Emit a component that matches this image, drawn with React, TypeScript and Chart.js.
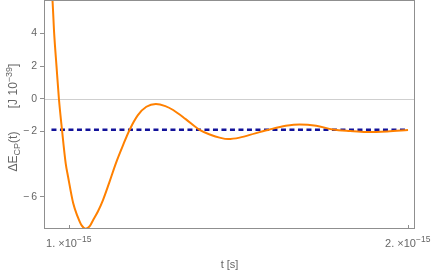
import React, { useEffect, useRef } from 'react';
import { Chart, registerables } from 'chart.js';

Chart.register(...registerables);

// time in units of 1e-15 s
const tValues = [0.948, 0.952, 0.957, 0.964, 0.971, 0.980, 0.991, 0.998, 1.013, 1.026, 1.038, 1.050, 1.062, 1.072, 1.086, 1.101, 1.120, 1.139, 1.160, 1.180, 1.204, 1.229, 1.257, 1.285, 1.308, 1.345, 1.386, 1.420, 1.445, 1.470, 1.504, 1.550, 1.593, 1.640, 1.681, 1.730, 1.779, 1.830, 1.878, 1.940, 2.001];
// ΔE_CP(t) in units of 1e-39 J
const deltaE = [6.9, 6.04, 4.0, 1.96, 0.0, -1.88, -3.95, -4.77, -6.38, -7.2, -7.75, -7.95, -7.8, -7.42, -6.9, -6.2, -5.1, -3.95, -2.85, -1.88, -1.0, -0.49, -0.32, -0.45, -0.69, -1.25, -1.91, -2.22, -2.38, -2.47, -2.38, -2.12, -1.88, -1.66, -1.57, -1.65, -1.88, -1.98, -2.04, -2.0, -1.91];
const meanDeltaE = -1.9;
const meanSpan = [0.949, 2.0];

const yTickValues = [4, 2, 0, -2, -6];
const xTickValues = [1, 2];
const xTickMantissas = ['1.', '2.'];
const xTickExponent = '\u221215';
const yRange = [-7.97, 6.04];
const xRange = [0.927, 2.0215];

const TEXT = '#666666';
const FRAME = '#8f8f8f';
const FONT = '"Liberation Sans", Arial, sans-serif';

function drawRuns(ctx: CanvasRenderingContext2D, runs: { t: string; size: number; dy: number }[], x: number, y: number, align: 'center' | 'left') {
  let total = 0;
  const widths = runs.map((r) => {
    ctx.font = `${r.size}px ${FONT}`;
    const w = ctx.measureText(r.t).width;
    total += w;
    return w;
  });
  let cx = align === 'center' ? x - total / 2 : x;
  runs.forEach((r, i) => {
    ctx.font = `${r.size}px ${FONT}`;
    ctx.fillText(r.t, cx, y + r.dy);
    cx += widths[i];
  });
}

const framePlugin = {
  id: 'framePlugin',
  beforeDatasetsDraw(chart: any) {
    const { ctx, chartArea: a, scales } = chart;
    const y0 = Math.round(scales.y.getPixelForValue(0)) + 0.5;
    ctx.save();
    ctx.strokeStyle = '#cfcfcf';
    ctx.lineWidth = 1;
    ctx.beginPath();
    ctx.moveTo(a.left, y0);
    ctx.lineTo(a.right, y0);
    ctx.stroke();
    ctx.restore();
  },
  afterDraw(chart: any) {
    const { ctx, chartArea: a, scales } = chart;
    ctx.save();
    ctx.strokeStyle = FRAME;
    ctx.lineWidth = 1;
    ctx.strokeRect(a.left + 0.5, a.top + 0.5, a.right - a.left - 1, a.bottom - a.top - 1);
    // x ticks (inward)
    ctx.beginPath();
    xTickValues.forEach((v) => {
      const px = Math.round(scales.x.getPixelForValue(v)) + 0.5;
      ctx.moveTo(px, a.bottom);
      ctx.lineTo(px, a.bottom - 4);
    });
    ctx.stroke();
    // x tick labels
    ctx.fillStyle = TEXT;
    ctx.textBaseline = 'alphabetic';
    ctx.textAlign = 'left';
    xTickValues.forEach((v, i) => {
      const px = scales.x.getPixelForValue(v);
      drawRuns(ctx, [
        { t: xTickMantissas[i] + ' \u00d710', size: 11, dy: 0 },
        { t: xTickExponent, size: 8.5, dy: -5 },
      ], px, 247, 'center');
    });
    // x title
    drawRuns(ctx, [{ t: 't [s]', size: 11, dy: 0 }], (a.left + a.right) / 2, 268, 'center');
    // y title (rotated)
    ctx.translate(17, 117.5);
    ctx.rotate(-Math.PI / 2);
    drawRuns(ctx, [
      { t: '\u0394E', size: 12, dy: 0 },
      { t: 'CP', size: 9, dy: 2.5 },
      { t: '(t)       [J 10', size: 12, dy: 0 },
      { t: '\u221239', size: 9, dy: -5 },
      { t: ']', size: 12, dy: 0 },
    ], 0, 0, 'center');
    ctx.restore();
  },
};

export default function App() {
  const ref = useRef<HTMLCanvasElement | null>(null);
  useEffect(() => {
    if (!ref.current) return;
    const chart = new Chart(ref.current, {
      type: 'line',
      data: {
        datasets: [
          {
            data: tValues.map((t, i) => ({ x: t, y: deltaE[i] })),
            borderColor: '#ff8000',
            borderWidth: 2,
            pointRadius: 0,
            cubicInterpolationMode: 'monotone',
            clip: 0,
          } as any,
          {
            data: meanSpan.map((t) => ({ x: t, y: meanDeltaE })),
            borderColor: '#12129a',
            borderWidth: 2.5,
            borderDash: [5, 3.5],
            pointRadius: 0,
            clip: 0,
          } as any,
        ],
      },
      options: {
        responsive: false,
        animation: false,
        layout: { padding: { left: 0, right: 21, top: 0, bottom: 0 } },
        plugins: { legend: { display: false }, tooltip: { enabled: false } },
        scales: {
          x: {
            type: 'linear',
            min: xRange[0],
            max: xRange[1],
            grid: { display: false },
            border: { display: false },
            ticks: { display: false },
            afterFit: (s: any) => { s.height = 43; s.paddingLeft = 0; s.paddingRight = 0; },
          },
          y: {
            type: 'linear',
            min: yRange[0],
            max: yRange[1],
            afterBuildTicks: (s: any) => { s.ticks = yTickValues.map((v) => ({ value: v })); },
            grid: { display: true, drawOnChartArea: false, drawTicks: true, tickLength: 4, color: FRAME },
            border: { display: false },
            ticks: {
              color: TEXT,
              padding: 3,
              font: { family: FONT, size: 10.5 },
              callback: (v: any) => (v < 0 ? '\u2212\u2009' + Math.abs(v) : String(v)),
            },
            afterFit: (s: any) => { s.width = 44; s.paddingTop = 0; s.paddingBottom = 0; },
          },
        },
      },
      plugins: [framePlugin],
    } as any);
    return () => chart.destroy();
  }, []);
  return (
    <div style={{ position: 'absolute', left: 0, top: 0, width: 436, height: 272, background: '#fff' }}>
      <canvas ref={ref} width={436} height={272} />
    </div>
  );
}
